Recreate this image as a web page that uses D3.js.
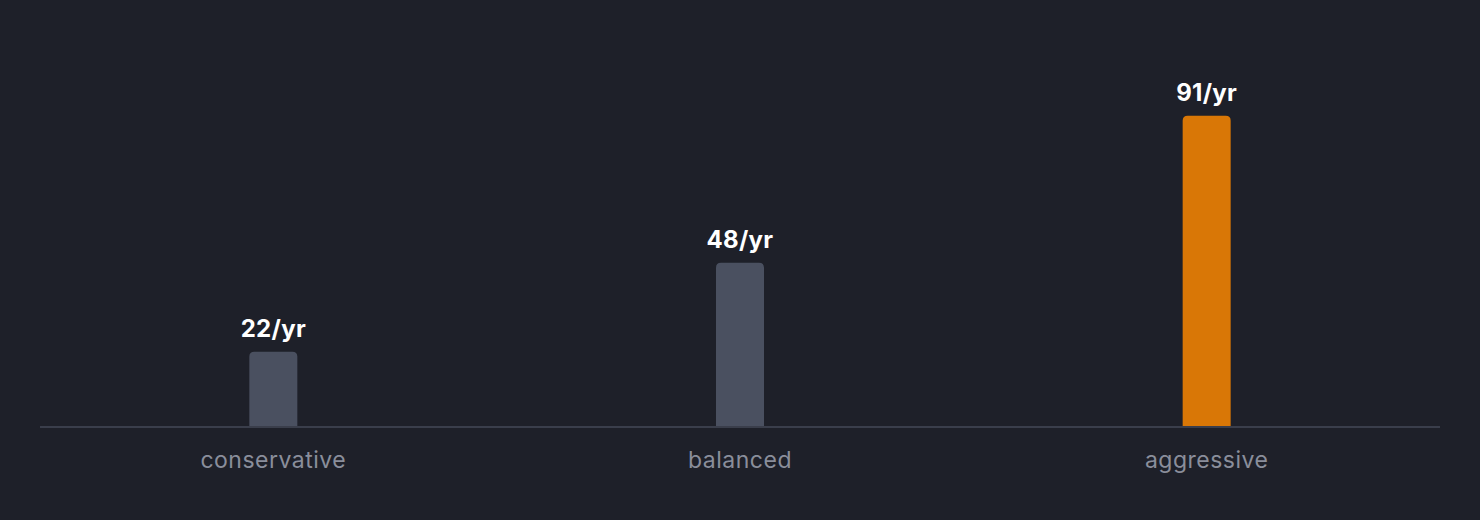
<!DOCTYPE html>
<html><head><meta charset="utf-8">
<script src="https://cdn.jsdelivr.net/npm/d3@7"></script>
<style>
html,body{margin:0;padding:0;background:#1e2029;}
svg{display:block;}
</style></head>
<body>
<svg id="chart" width="1480" height="520"></svg>
<script>
const categories = ["conservative", "balanced", "aggressive"];
const values = [22, 48, 91];
const valueSuffix = "/yr";
const highlight = ["aggressive"];

const W = 1480, H = 520;
const margin = {left: 40, right: 40, top: 85, bottom: 93};
const svg = d3.select("#chart");
svg.append("rect").attr("width", W).attr("height", H).attr("fill", "#1e2029");

const x = d3.scaleBand().domain(categories).range([margin.left, W - margin.right]).padding(0);
const y = d3.scaleLinear().domain([0, 100]).range([H - margin.bottom, margin.top]);
const barW = 48, r = 5;

const data = categories.map((c, i) => ({c, v: values[i]}));

function topRounded(x0, y0, w, h, rad) {
  rad = Math.min(rad, h, w / 2);
  return `M${x0},${y0 + h}V${y0 + rad}Q${x0},${y0} ${x0 + rad},${y0}H${x0 + w - rad}Q${x0 + w},${y0} ${x0 + w},${y0 + rad}V${y0 + h}Z`;
}

svg.append("g").selectAll("path").data(data).join("path")
  .attr("d", d => {
    const cx = x(d.c) + x.bandwidth() / 2;
    return topRounded(cx - barW / 2, y(d.v), barW, y(0) - y(d.v), r);
  })
  .attr("fill", d => highlight.includes(d.c) ? "#d97706" : "#4a5060");

// axis
const axis = d3.axisBottom(x).tickSize(0).tickPadding(25);
const ag = svg.append("g").attr("transform", `translate(0,${y(0)})`).call(axis);
ag.select(".domain").attr("stroke", "#3a3e4b").attr("stroke-width", 2).attr("d", `M${margin.left},0H${W - margin.right}`);
ag.selectAll("text")
  .attr("fill", "#8a8e9b")
  .attr("font-family", "Inter, sans-serif")
  .attr("font-size", 23)
  .attr("letter-spacing", "0.5px")
  .attr("dy", "0.71em");

svg.append("g").selectAll("text").data(data).join("text")
  .attr("x", d => x(d.c) + x.bandwidth() / 2)
  .attr("y", d => y(d.v) - 15)
  .attr("text-anchor", "middle")
  .attr("fill", "#ffffff")
  .attr("font-family", "Inter, sans-serif")
  .attr("font-weight", 700)
  .attr("font-size", 24)
  .attr("letter-spacing", "0.3px")
  .text(d => d.v + valueSuffix);
</script>
</body></html>
